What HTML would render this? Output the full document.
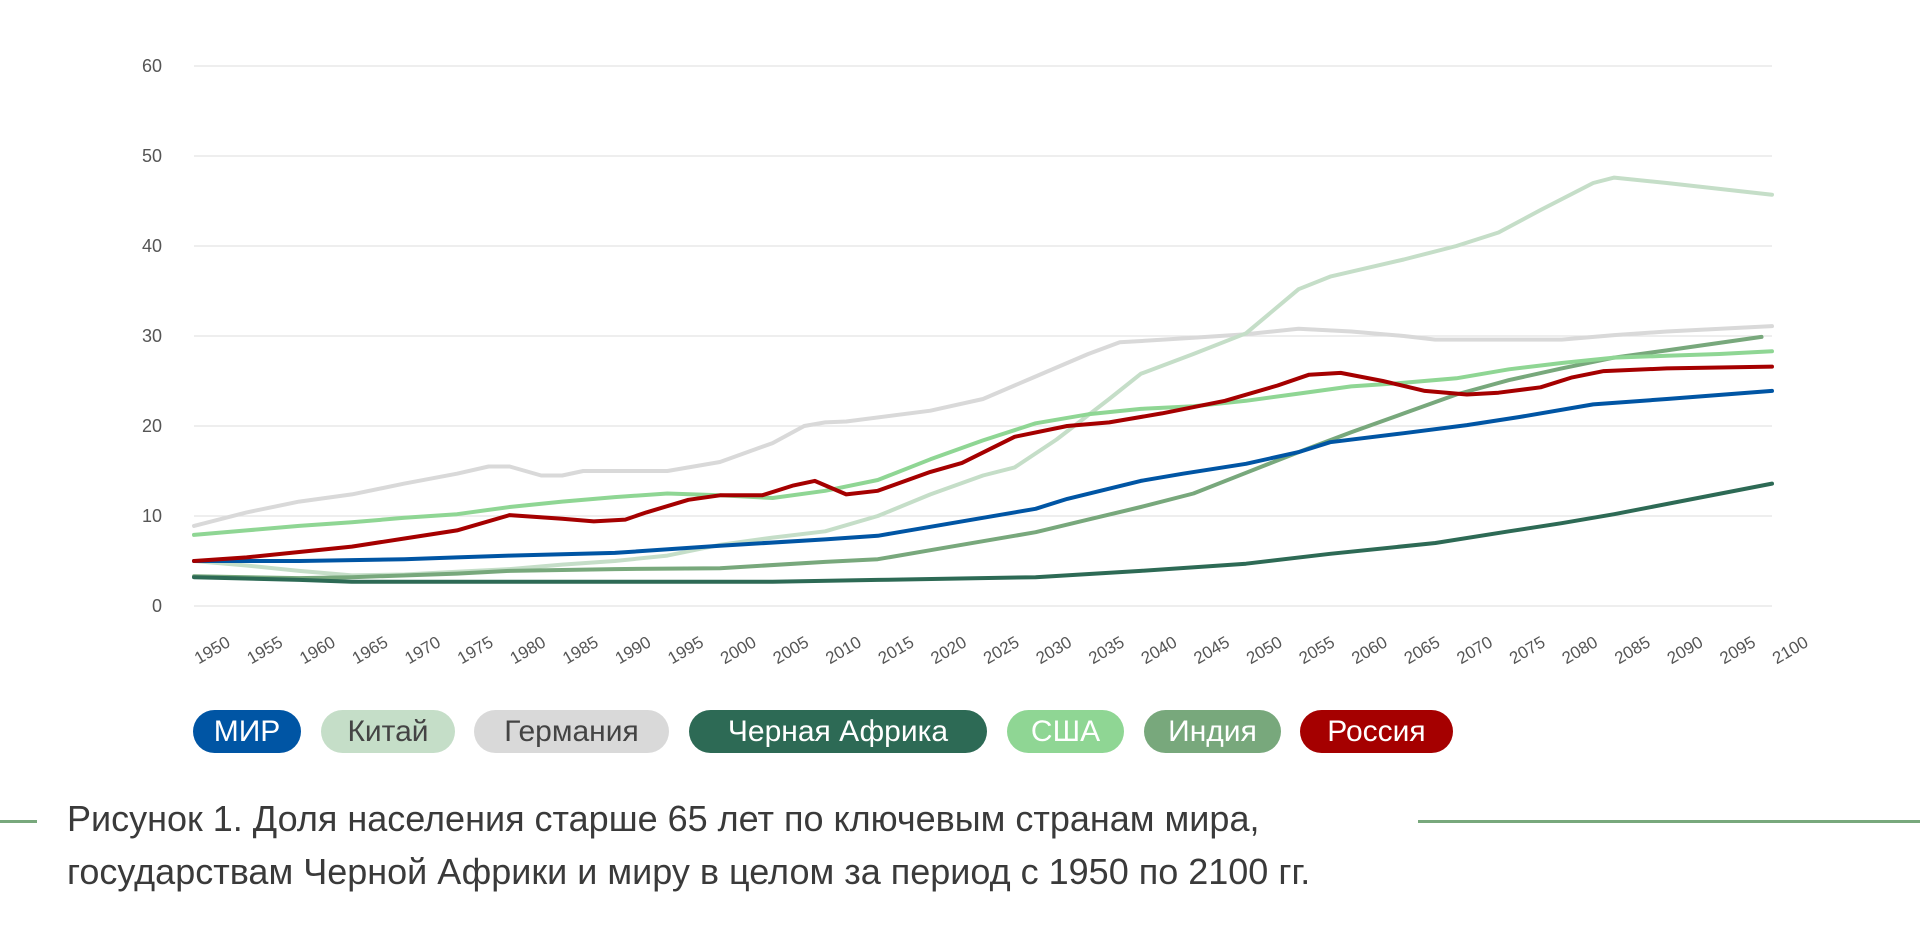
<!DOCTYPE html>
<html><head><meta charset="utf-8"><style>
html,body{margin:0;padding:0;background:#fff;}
body{width:1920px;height:944px;overflow:hidden;position:relative;font-family:"Liberation Sans","Noto Sans CJK SC",sans-serif;}
.pill{position:absolute;top:710px;height:43px;border-radius:22px;font-size:30px;line-height:43px;text-align:center;color:#fff;}
.cap{position:absolute;left:67px;font-size:36px;color:#3a3a3a;white-space:nowrap;}
.hl{position:absolute;height:3px;background:#78a87c;top:820px;}
</style></head><body>
<svg id="ch" width="1920" height="700" style="position:absolute;left:0;top:0" xmlns="http://www.w3.org/2000/svg">
<g stroke="#e3e3e3" stroke-width="1.3">
<line x1="194" x2="1772" y1="66" y2="66"/><line x1="194" x2="1772" y1="156" y2="156"/><line x1="194" x2="1772" y1="246" y2="246"/><line x1="194" x2="1772" y1="336" y2="336"/><line x1="194" x2="1772" y1="426" y2="426"/><line x1="194" x2="1772" y1="516" y2="516"/><line x1="194" x2="1772" y1="606" y2="606"/>
</g>
<g font-family="Liberation Sans, sans-serif" font-size="18" fill="#555" text-anchor="end">
<text x="162" y="72">60</text><text x="162" y="162">50</text><text x="162" y="252">40</text><text x="162" y="342">30</text><text x="162" y="432">20</text><text x="162" y="522">10</text><text x="162" y="612">0</text>
</g>
<g font-family="Liberation Sans, sans-serif" font-size="17" fill="#555" text-anchor="middle">
<text transform="translate(215,655) rotate(-30)">1950</text>
<text transform="translate(267.6,655) rotate(-30)">1955</text>
<text transform="translate(320.2,655) rotate(-30)">1960</text>
<text transform="translate(372.8,655) rotate(-30)">1965</text>
<text transform="translate(425.4,655) rotate(-30)">1970</text>
<text transform="translate(478,655) rotate(-30)">1975</text>
<text transform="translate(530.6,655) rotate(-30)">1980</text>
<text transform="translate(583.2,655) rotate(-30)">1985</text>
<text transform="translate(635.8,655) rotate(-30)">1990</text>
<text transform="translate(688.4,655) rotate(-30)">1995</text>
<text transform="translate(741,655) rotate(-30)">2000</text>
<text transform="translate(793.6,655) rotate(-30)">2005</text>
<text transform="translate(846.2,655) rotate(-30)">2010</text>
<text transform="translate(898.8,655) rotate(-30)">2015</text>
<text transform="translate(951.4,655) rotate(-30)">2020</text>
<text transform="translate(1004,655) rotate(-30)">2025</text>
<text transform="translate(1056.6,655) rotate(-30)">2030</text>
<text transform="translate(1109.2,655) rotate(-30)">2035</text>
<text transform="translate(1161.8,655) rotate(-30)">2040</text>
<text transform="translate(1214.4,655) rotate(-30)">2045</text>
<text transform="translate(1267,655) rotate(-30)">2050</text>
<text transform="translate(1319.6,655) rotate(-30)">2055</text>
<text transform="translate(1372.2,655) rotate(-30)">2060</text>
<text transform="translate(1424.8,655) rotate(-30)">2065</text>
<text transform="translate(1477.4,655) rotate(-30)">2070</text>
<text transform="translate(1530,655) rotate(-30)">2075</text>
<text transform="translate(1582.6,655) rotate(-30)">2080</text>
<text transform="translate(1635.2,655) rotate(-30)">2085</text>
<text transform="translate(1687.8,655) rotate(-30)">2090</text>
<text transform="translate(1740.4,655) rotate(-30)">2095</text>
<text transform="translate(1793,655) rotate(-30)">2100</text>
</g>
<g id="lines" fill="none" stroke-width="4" stroke-linejoin="round" stroke-linecap="round"></g>
</svg>
<div class="pill" style="left:193px;width:108px;background:#0055a4;">МИР</div>
<div class="pill" style="left:321px;width:134px;background:#c5dec8;color:#444;">Китай</div>
<div class="pill" style="left:474px;width:195px;background:#d9d9d9;color:#444;">Германия</div>
<div class="pill" style="left:689px;width:298px;background:#2d6a55;">Черная Африка</div>
<div class="pill" style="left:1007px;width:117px;background:#8fd694;">США</div>
<div class="pill" style="left:1144px;width:137px;background:#78a87c;">Индия</div>
<div class="pill" style="left:1300px;width:153px;background:#a50000;">Россия</div>
<div class="hl" style="left:0;width:37px;"></div>
<div class="hl" style="left:1418px;width:502px;"></div>
<div class="cap" style="top:798px;">Рисунок 1. Доля населения старше 65 лет по ключевым странам мира,</div>
<div class="cap" style="top:851px;">государствам Черной Африки и миру в целом за период с 1950 по 2100 гг.</div>
<script>
var S=[
["#d9d9d9",[[1950,8.9],[1955,10.4],[1960,11.6],[1965,12.4],[1970,13.6],[1975,14.7],[1978,15.5],[1980,15.5],[1983,14.5],[1985,14.5],[1987,15],[1995,15],[2000,16],[2005,18.1],[2008,20],[2010,20.4],[2012,20.5],[2020,21.7],[2025,23],[2030,25.5],[2035,28],[2038,29.3],[2045,29.8],[2050,30.2],[2055,30.8],[2060,30.5],[2065,30.0],[2068,29.6],[2080,29.6],[2085,30.1],[2090,30.5],[2100,31.1]]],
["#c5dec8",[[1950,5.0],[1955,4.5],[1960,3.9],[1965,3.4],[1970,3.5],[1975,3.8],[1980,4.1],[1985,4.6],[1990,5.0],[1995,5.6],[2000,6.8],[2005,7.6],[2010,8.3],[2015,10.0],[2020,12.4],[2025,14.5],[2028,15.4],[2032,18.5],[2037,23],[2040,25.8],[2045,28],[2050,30.3],[2055,35.2],[2058,36.6],[2065,38.5],[2070,40.0],[2074,41.5],[2078,44.0],[2083,47.0],[2085,47.6],[2090,47.0],[2100,45.7]]],
["#78a87c",[[1950,3.3],[1960,3.1],[1965,3.2],[1975,3.6],[1980,3.9],[1990,4.1],[2000,4.2],[2010,4.9],[2015,5.2],[2020,6.2],[2025,7.2],[2030,8.2],[2035,9.6],[2040,11.0],[2045,12.5],[2050,14.8],[2055,17.1],[2060,19.3],[2065,21.4],[2070,23.5],[2075,25.1],[2080,26.4],[2085,27.6],[2090,28.4],[2099,29.9]]],
["#8fd694",[[1950,7.9],[1955,8.4],[1960,8.9],[1965,9.3],[1970,9.8],[1975,10.2],[1980,11.0],[1985,11.6],[1990,12.1],[1995,12.5],[2000,12.3],[2005,12.0],[2010,12.8],[2015,14.0],[2020,16.3],[2025,18.4],[2030,20.3],[2035,21.3],[2040,21.9],[2045,22.2],[2050,22.8],[2055,23.6],[2060,24.4],[2065,24.8],[2070,25.3],[2075,26.3],[2080,27.0],[2085,27.6],[2090,27.8],[2095,28.0],[2100,28.3]]],
["#2d6a55",[[1950,3.2],[1960,2.9],[1965,2.7],[2005,2.7],[2015,2.9],[2030,3.2],[2040,3.9],[2050,4.7],[2058,5.8],[2068,7.0],[2075,8.3],[2080,9.2],[2085,10.2],[2100,13.6]]],
["#0055a4",[[1950,5.0],[1960,5.0],[1970,5.2],[1975,5.4],[1980,5.6],[1990,5.9],[2000,6.7],[2010,7.4],[2015,7.8],[2020,8.8],[2025,9.8],[2030,10.8],[2033,11.9],[2040,13.9],[2044,14.7],[2050,15.8],[2055,17.1],[2058,18.2],[2065,19.2],[2071,20.1],[2076,21.0],[2083,22.4],[2090,23.0],[2100,23.9]]],
["#a50000",[[1950,5.0],[1955,5.4],[1960,6.0],[1965,6.6],[1970,7.5],[1975,8.4],[1980,10.1],[1985,9.7],[1988,9.4],[1991,9.6],[1993,10.4],[1997,11.8],[2000,12.3],[2004,12.3],[2007,13.4],[2009,13.9],[2012,12.4],[2015,12.8],[2020,14.9],[2023,15.9],[2028,18.8],[2033,20.0],[2037,20.4],[2042,21.4],[2048,22.8],[2053,24.5],[2056,25.7],[2059,25.9],[2063,25.0],[2067,23.9],[2071,23.5],[2074,23.7],[2078,24.3],[2081,25.4],[2084,26.1],[2090,26.4],[2100,26.6]]]
];
var g=document.getElementById("lines"),h="";
S.forEach(function(s){var p=s[1].map(function(d){return (194+(d[0]-1950)*10.52).toFixed(1)+","+(606-9*d[1]).toFixed(1);}).join(" ");
h+='<polyline stroke="'+s[0]+'" points="'+p+'"/>';});
g.innerHTML=h;
</script>
</body></html>
